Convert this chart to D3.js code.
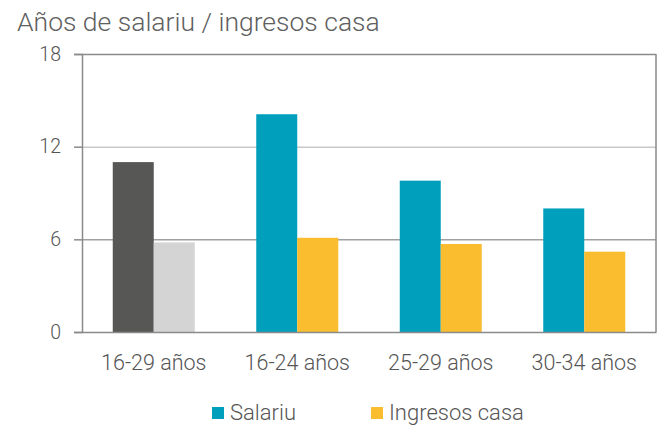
<!DOCTYPE html>
<html>
<head>
<meta charset="utf-8">
<script src="https://cdn.jsdelivr.net/npm/d3@7"></script>
<style>
  body { margin: 0; background: #fff; }
  text { font-family: Roboto, "DejaVu Sans", sans-serif; font-weight: 300; fill: #555; }
</style>
</head>
<body>
<div id="app"></div>
<script>
// data
const categories = ["16-29 años", "16-24 años", "25-29 años", "30-34 años"];
const seriesNames = ["Salariu", "Ingresos casa"];
const salariu = [11.0, 14.1, 9.8, 8.0];
const ingresos = [5.8, 6.1, 5.7, 5.2];
const yTicks = [0, 6, 12, 18];

const w = 667, h = 425;
const plotL = 82, plotR = 656, plotT = 54, plotB = 332;

const seriesColors = ["#00A0BD", "#F9BD2F"];
// first group highlighted in greys
const firstColors = ["#575756", "#D4D4D4"];

const svg = d3.select("#app").append("svg")
  .attr("width", w)
  .attr("height", h)
  .style("background-color", "#fff");

svg.append("text")
  .attr("x", 17)
  .attr("y", 31)
  .style("font-size", "26.5px")
  .style("fill", "#606060")
  .text("Años de salariu / ingresos casa");

const x = d3.scaleBand()
  .domain(categories)
  .range([plotL, plotR]);

const xSub = d3.scaleBand()
  .domain(seriesNames)
  .range([0, x.bandwidth()])
  .paddingInner(0)
  .paddingOuter(0.75);

const y = d3.scaleLinear()
  .domain([0, 18])
  .range([plotB, plotT]);

// gridlines
svg.append("g")
  .selectAll("line")
  .data([6, 12])
  .enter()
  .append("line")
  .attr("x1", plotL)
  .attr("x2", plotR)
  .attr("y1", d => y(d) + 0.5)
  .attr("y2", d => y(d) + 0.5)
  .attr("stroke", d => d == 12 ? "#c8c8c8" : "#a0a0a0")
  .attr("stroke-width", 1.5);

// frame: top and right
svg.append("line")
  .attr("x1", plotL).attr("x2", plotR)
  .attr("y1", plotT + 0.5).attr("y2", plotT + 0.5)
  .attr("stroke", "#8a8a8a").attr("stroke-width", 1.5);
svg.append("line")
  .attr("x1", plotR).attr("x2", plotR)
  .attr("y1", plotT).attr("y2", plotB)
  .attr("stroke", "#8a8a8a").attr("stroke-width", 1.5);

const rows = categories.map((c, i) => ({ cat: c, i: i, values: [salariu[i], ingresos[i]] }));

const groups = svg.append("g")
  .selectAll("g")
  .data(rows)
  .enter()
  .append("g")
  .attr("transform", d => "translate(" + x(d.cat) + ",0)");

groups.selectAll("rect")
  .data(d => d.values.map((v, j) => ({ name: seriesNames[j], v: v, j: j, i: d.i })))
  .enter()
  .append("rect")
  .attr("x", d => xSub(d.name))
  .attr("y", d => y(d.v))
  .attr("width", xSub.bandwidth())
  .attr("height", d => y(0) - y(d.v))
  .attr("fill", d => d.i == 0 ? firstColors[d.j] : seriesColors[d.j]);

// y axis
const yAxis = d3.axisLeft(y)
  .tickValues(yTicks)
  .tickSize(8)
  .tickPadding(13);

const gy = svg.append("g")
  .attr("transform", "translate(" + plotL + ",0)")
  .call(yAxis);
gy.select(".domain").attr("stroke", "#8a8a8a").attr("stroke-width", 1.5);
gy.selectAll(".tick line").attr("stroke", "#8a8a8a").attr("stroke-width", 1.5);
gy.selectAll(".tick text")
  .style("font-size", "19.5px")
  .style("font-family", "Roboto, sans-serif")
  .attr("fill", "#555");

// x axis
const xAxis = d3.axisBottom(x)
  .tickSize(0)
  .tickPadding(23);

const gx = svg.append("g")
  .attr("transform", "translate(0," + plotB + ")")
  .call(xAxis);
gx.select(".domain").attr("stroke", "#8a8a8a").attr("stroke-width", 1.5);
gx.selectAll(".tick text")
  .style("font-size", "21.5px")
  .style("font-family", "Roboto, sans-serif")
  .attr("fill", "#555");

// legend
const legendX = [212, 371];
const legend = svg.append("g")
  .selectAll("g")
  .data(seriesNames)
  .enter()
  .append("g")
  .attr("transform", (d, i) => "translate(" + legendX[i] + ",407)");

legend.append("rect")
  .attr("width", 12)
  .attr("height", 12)
  .attr("fill", (d, i) => seriesColors[i]);

legend.append("text")
  .attr("x", 18)
  .attr("y", 13)
  .style("font-size", "22px")
  .text(d => d);
</script>
</body>
</html>
